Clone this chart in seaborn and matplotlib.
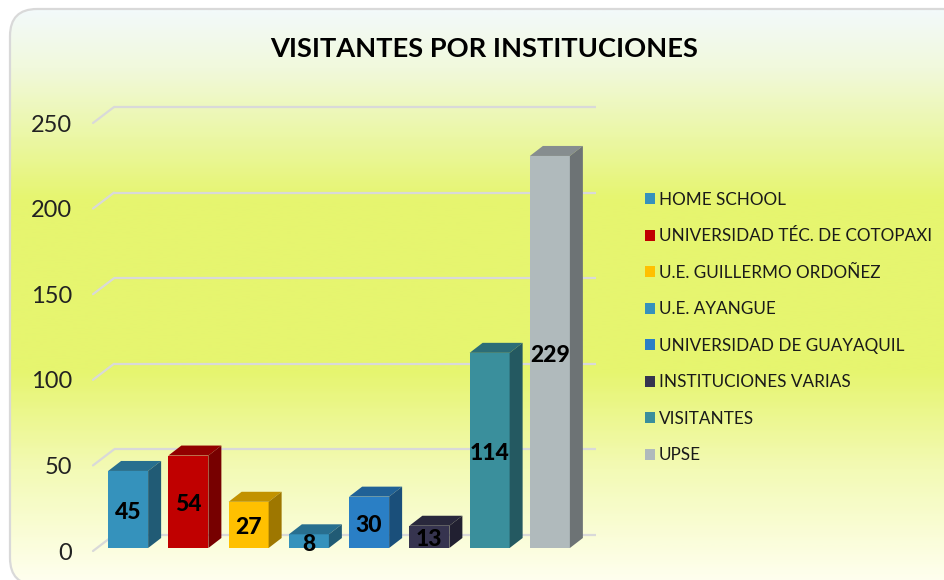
import numpy as np
import matplotlib
matplotlib.use('Agg')
import matplotlib.pyplot as plt
import seaborn as sns
from matplotlib.colors import LinearSegmentedColormap, to_rgb
from matplotlib.patches import FancyBboxPatch, Patch, Polygon
from matplotlib.transforms import Affine2D, IdentityTransform

# Datos del grafico
instituciones = ['HOME SCHOOL', 'UNIVERSIDAD TÉC. DE COTOPAXI', 'U.E. GUILLERMO ORDOÑEZ',
                 'U.E. AYANGUE', 'UNIVERSIDAD DE GUAYAQUIL', 'INSTITUCIONES VARIAS',
                 'VISITANTES', 'UPSE']
visitantes = [45, 54, 27, 8, 30, 13, 114, 229]
colores = ['#3592BC', '#C00000', '#FFC000', '#3592BC', '#2A7FC5', '#36344F', '#3A8F9C', '#B0BABC']
ticks_y = [0, 50, 100, 150, 200, 250]

W, H = 944, 580

sns.set_theme(style='white')
plt.rcParams['font.family'] = ['Lato', 'DejaVu Sans']

fig = plt.figure(figsize=(W / 100, H / 100), dpi=100, facecolor='white')

# Fondo con degradado y esquinas redondeadas
bg = fig.add_axes([0, 0, 1, 1], zorder=0)
bg.axis('off')
cmap = LinearSegmentedColormap.from_list('fondo', [
    (0.0, '#F3FAFA'), (0.10, '#F1F9DC'), (0.22, '#EBF7A5'), (0.33, '#E6F56F'),
    (0.63, '#E6F56F'), (0.80, '#F3FAB5'), (1.0, '#FFFFF0')])
grad = np.linspace(0, 1, 300).reshape(-1, 1)
img = bg.imshow(grad, cmap=cmap, extent=(10, 970, 585, 9), aspect='auto')
# cara casi transparente: sin ella agg recorta las curvas del borde
marco = FancyBboxPatch((10, 9), 960, 576, boxstyle='round,pad=0,rounding_size=27',
                       facecolor=(1, 1, 1, 0.004), edgecolor='#D9D9D9', linewidth=1.6)
bg.add_patch(marco)
img.set_clip_path(marco)
bg.set_xlim(0, W)
bg.set_ylim(H, 0)

# Ejes principales: x de 98 a 580 px, y=0 en 548 px, y=250 en 120 px
ax = fig.add_axes([98 / W, 1 - 548 / H, 482 / W, 428 / H], zorder=1)
ax.patch.set_alpha(0)
sns.despine(ax=ax, left=True, bottom=True, top=True, right=True)

sns.barplot(x=instituciones, y=visitantes, hue=instituciones, palette=colores,
            hue_order=instituciones, order=instituciones, legend=False,
            width=40 / 60.25, saturation=1, linewidth=0, ax=ax, zorder=3)
ax.set_xlim(-0.5, 7.5)
ax.set_ylim(0, 250)
ax.set_yticks(ticks_y)
ax.set_xticks([])
ax.set_xlabel('')
ax.set_ylabel('')
ax.grid(False)
ax.tick_params(axis='y', length=0, pad=18.5, labelsize=17, labelcolor='#222222')
for lab in ax.get_yticklabels():
    lab.set_transform(lab.get_transform() + Affine2D().translate(0, -3))

# Pared del fondo: lineas de la cuadricula con perspectiva
pared = ax.transData + Affine2D().translate(16, 13)
for t in ticks_y:
    ax.plot([-0.5, 7.5], [t, t], transform=pared, color='#D9D9D9', lw=1.6, zorder=1,
            clip_on=False, solid_capstyle='butt')
    x0, y0 = ax.transData.transform((-0.5, t))
    ax.plot([x0 - 5, x0 + 16], [y0 - 3, y0 + 13], transform=IdentityTransform(),
            color='#D9D9D9', lw=1.6, zorder=1, clip_on=False)

# Caras superior y lateral de cada barra
dx, dy = 13, 10
for barra in ax.patches:
    (x1, y1), (x2, y2) = ax.transData.transform(barra.get_bbox().get_points())
    c = np.array(to_rgb(barra.get_facecolor()))
    ax.add_patch(Polygon([(x1, y2), (x2, y2), (x2 + dx, y2 + dy), (x1 + dx, y2 + dy)],
                         transform=IdentityTransform(), facecolor=c * 0.76,
                         edgecolor='none', zorder=3, clip_on=False))
    ax.add_patch(Polygon([(x2, y1), (x2 + dx, y1 + dy), (x2 + dx, y2 + dy), (x2, y2)],
                         transform=IdentityTransform(), facecolor=c * 0.62,
                         edgecolor='none', zorder=3, clip_on=False))

# Etiquetas de valores
for cont in ax.containers:
    etiquetas = ax.bar_label(cont, label_type='center', fontsize=16.5, fontweight='black',
                             color='black', clip_on=False)
    for e in etiquetas:
        e.set_zorder(5)
        e.xyann = (0, -2.2)

# Leyenda
handles = [Patch(facecolor=c, edgecolor='none', label=n) for c, n in zip(colores, instituciones)]
leg = fig.legend(handles=handles, loc='center left', bbox_to_anchor=(644.5 / W, 1 - 327.5 / H),
                 bbox_transform=fig.transFigure, frameon=False, fontsize=12.3,
                 handlelength=0.6, handleheight=0.6, handletextpad=0.25,
                 labelspacing=1.2, borderpad=0, borderaxespad=0, labelcolor='#1A1A1A')

fig.text(484 / W, 1 - 49 / H, 'VISITANTES POR INSTITUCIONES', ha='center', va='center',
         fontsize=19.6, fontweight='bold', color='black')

plt.savefig('out.png', dpi=100)
plt.close()
